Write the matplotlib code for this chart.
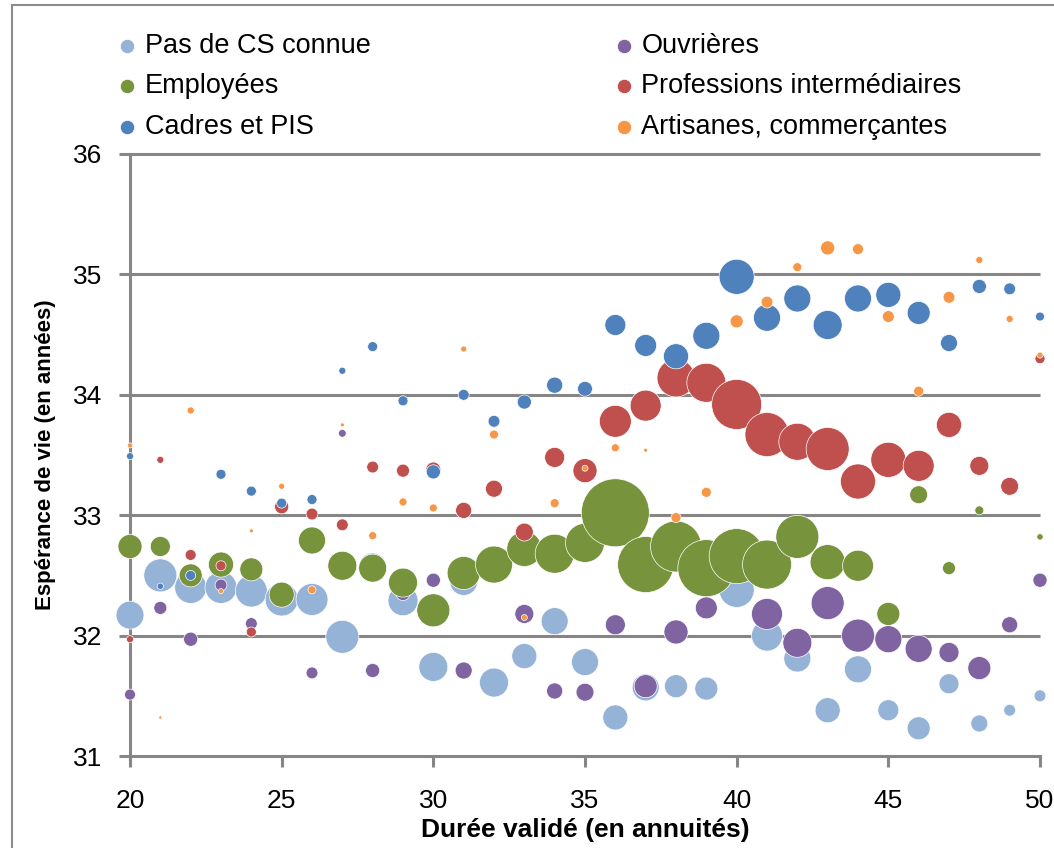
import numpy as np
import matplotlib
matplotlib.use('Agg')
import matplotlib.pyplot as plt
from matplotlib.patches import Rectangle

plt.rcParams['font.family'] = ['Liberation Sans', 'DejaVu Sans']

nan = np.nan

# durée validée (annuités)
annuites = list(range(20, 51))

# espérance de vie par catégorie
pas_cs_y = [32.17, 32.50, 32.40, 32.40, 32.37, 32.30, 32.30, 31.99, 32.57, 32.29, 31.74,
            32.45, 31.61, 31.83, 32.12, 31.78, 31.32, 31.57, 31.58, 31.56, 32.38,
            32.00, 31.81, 31.38, 31.72, 31.38, 31.23, 31.60, 31.27, 31.38, 31.50]
ouvr_y = [31.51, 32.23, 31.97, 32.42, 32.10, nan, 31.69, 33.68, 31.71, 32.35, 32.46,
          31.71, nan, 32.18, 31.54, 31.53, 32.09, 31.58, 32.03, 32.23, nan,
          32.18, 31.94, 32.27, 32.00, 31.97, 31.89, 31.86, 31.73, 32.09, 32.46]
empl_y = [32.74, 32.74, 32.50, 32.59, 32.55, 32.34, 32.79, 32.58, 32.56, 32.44, 32.21,
          32.52, 32.59, 32.72, 32.68, 32.77, 33.02, 32.59, 32.74, 32.56, 32.66,
          32.59, 32.82, 32.61, 32.58, 32.18, 33.17, 32.56, 33.04, nan, 32.82]
prof_y = [31.97, 33.46, 32.67, 32.58, 32.03, 33.07, 33.01, 32.92, 33.40, 33.37, 33.38,
          33.04, 33.22, 32.86, 33.48, 33.37, 33.78, 33.91, 34.14, 34.10, 33.92,
          33.67, 33.61, 33.55, 33.28, 33.46, 33.41, 33.75, 33.41, 33.24, 34.30]
cadres_y = [33.49, 32.41, 32.50, 33.34, 33.20, 33.10, 33.13, 34.20, 34.40, 33.95, 33.36,
            34.00, 33.78, 33.94, 34.08, 34.05, 34.58, 34.41, 34.32, 34.49, 34.98,
            34.64, 34.80, 34.58, 34.80, 34.83, 34.68, 34.43, 34.90, 34.88, 34.65]
artis_y = [33.58, 31.32, 33.87, 32.37, 32.87, 33.24, 32.38, 33.75, 32.83, 33.11, 33.06,
           34.38, 33.67, 32.15, 33.10, 33.39, 33.56, 33.54, 32.98, 33.19, 34.61,
           34.77, 35.06, 35.22, 35.21, 34.65, 34.03, 34.81, 35.12, 34.63, 34.33]

# effectifs (taille des bulles)
pas_cs_n = [78, 109, 102, 102, 102, 109, 102, 109, 78, 90, 84,
            78, 84, 63, 73, 73, 63, 73, 53, 53, 123,
            96, 73, 63, 73, 44, 53, 40, 29, 14, 14]
ouvr_n = [12, 17, 20, 14, 14, nan, 14, 6, 20, 20, 20,
          29, nan, 36, 26, 32, 40, 53, 58, 48, nan,
          96, 84, 109, 109, 73, 73, 40, 53, 26, 20]
empl_n = [58, 40, 53, 63, 53, 63, 73, 84, 78, 84, 109,
          109, 137, 123, 152, 152, 462, 314, 260, 325, 302,
          240, 185, 123, 96, 53, 32, 17, 8, nan, 4]
prof_n = [5, 5, 12, 10, 10, 20, 14, 14, 14, 17, 22,
          26, 29, 32, 40, 58, 102, 96, 144, 152, 250,
          194, 137, 185, 123, 123, 96, 63, 36, 32, 10]
cadres_n = [5, 4, 10, 10, 10, 10, 10, 5, 10, 10, 20,
            12, 14, 20, 26, 22, 44, 48, 63, 73, 123,
            73, 73, 84, 73, 63, 53, 29, 20, 14, 8]
artis_n = [2.5, 1, 5, 2.5, 1.6, 3.6, 6.4, 1.6, 6.4, 6.4, 6.4,
           3.6, 8, 3.6, 8, 3.6, 6.4, 1.6, 10, 10, 17,
           14, 8, 20, 12, 14, 10, 14, 5, 5, 3.6]

series = [
    ('Pas de CS connue', pas_cs_y, pas_cs_n, '#95B3D7'),
    ('Ouvrières', ouvr_y, ouvr_n, '#8064A2'),
    ('Employées', empl_y, empl_n, '#77933C'),
    ('Professions intermédiaires', prof_y, prof_n, '#C0504D'),
    ('Cadres et PIS', cadres_y, cadres_n, '#4F81BD'),
    ('Artisanes, commerçantes', artis_y, artis_n, '#F79646'),
]

grid_col = '#868686'

fig = plt.figure(figsize=(10.54, 8.48), dpi=100)
ax = fig.add_axes([130 / 1054, 1 - 756 / 848, 910 / 1054, 602 / 848])

handles = {}
for name, y, n, col in series:
    sizes = np.array(n, dtype=float) * 5.184
    h = ax.scatter(annuites, y, s=sizes, color=col, edgecolors='white',
                   linewidths=0.5, clip_on=False, zorder=3, label=name)
    handles[name] = h

ax.set_xlim(20, 50)
ax.set_ylim(31, 36)
ax.set_xticks(range(20, 51, 5))
ax.set_yticks(range(31, 37))

# quadrillage horizontal
for v in range(32, 37):
    ax.plot([20, 50], [v, v], color=grid_col, lw=2.2, zorder=1, clip_on=False,
            solid_capstyle='butt')

for s in ['top', 'right']:
    ax.spines[s].set_visible(False)
for s in ['left', 'bottom']:
    ax.spines[s].set_color(grid_col)
    ax.spines[s].set_linewidth(2.2)
    ax.spines[s].set_zorder(2)

ax.tick_params(axis='both', direction='out', length=8, width=2.2, color=grid_col,
               labelsize=19)
ax.tick_params(axis='y', pad=12)
ax.tick_params(axis='x', pad=16)

ax.set_xlabel('Durée validé (en annuités)', fontsize=19, fontweight='bold', labelpad=3)
ax.set_ylabel('Espérance de vie (en années)', fontsize=16, fontweight='bold', labelpad=12)

order = ['Pas de CS connue', 'Employées', 'Cadres et PIS',
         'Ouvrières', 'Professions intermédiaires', 'Artisanes, commerçantes']
leg = fig.legend([handles[k] for k in order], order, ncol=2, loc='upper left',
                 bbox_to_anchor=(104 / 1054, 1 - 22 / 848), frameon=False,
                 fontsize=19.5, handletextpad=0.2, columnspacing=8.9,
                 labelspacing=0.54, handlelength=0.9, borderaxespad=0)
for lh in leg.legend_handles:
    lh.set_sizes([105])

# cadre du graphique
fig.patches.append(Rectangle((12 / 1054, -0.05), 1.1, 1 - 5 / 848 + 0.05,
                             transform=fig.transFigure, fill=False,
                             edgecolor='#8c8c8c', lw=1.5))

fig.savefig('out.png', dpi=100)
